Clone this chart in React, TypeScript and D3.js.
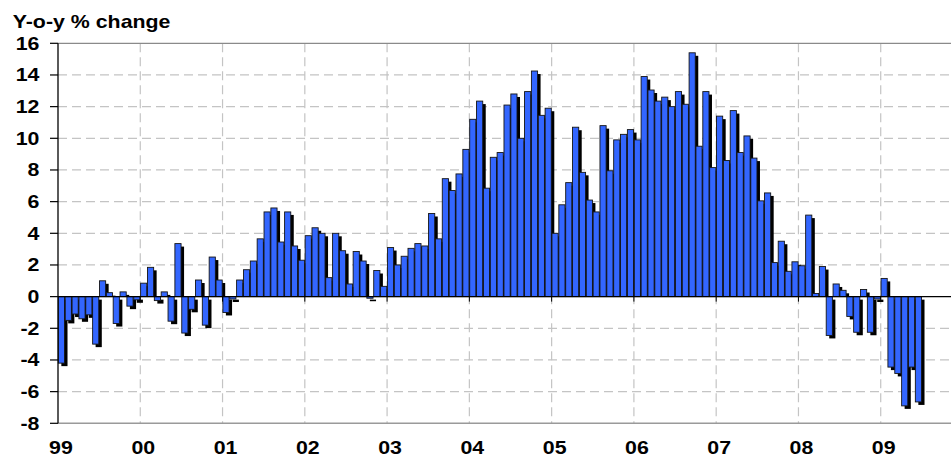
import React from 'react';
import * as d3 from 'd3';

const years = ['99', '00', '01', '02', '03', '04', '05', '06', '07', '08', '09'];

// monthly y-o-y % change, Jan 1999 – Jun 2009
const yoyChange = [
  -4.2, -1.5, -1.1, -1.4, -1.15, -3.0, 1.0, 0.25, -1.7, 0.3, -0.6, -0.2,
  0.85, 1.85, -0.25, 0.3, -1.55, 3.35, -2.3, -0.8, 1.05, -1.8, 2.5, 1.05,
  -1.0, -0.15, 1.05, 1.7, 2.25, 3.65, 5.35, 5.6, 3.45, 5.35, 3.2, 2.3,
  3.85, 4.35, 4.0, 1.2, 4.0, 2.9, 0.8, 2.85, 2.25, -0.1, 1.65, 0.65,
  3.1, 2.0, 2.55, 3.05, 3.35, 3.2, 5.25, 3.65, 7.45, 6.7, 7.75, 9.3,
  11.2, 12.35, 6.85, 8.8, 9.1, 12.1, 12.8, 10.0, 12.95, 14.25, 11.45, 11.9,
  4.0, 5.8, 7.2, 10.7, 7.85, 6.1, 5.35, 10.8, 7.95, 9.9, 10.25, 10.55,
  9.9, 13.9, 13.05, 12.35, 12.6, 12.0, 12.95, 12.15, 15.4, 9.5, 12.95, 8.15,
  11.4, 8.6, 11.75, 9.1, 10.15, 8.75, 6.05, 6.55, 2.15, 3.5, 1.6, 2.2,
  1.95, 5.15, 0.2, 1.9, -2.45, 0.8, 0.4, -1.25, -2.25, 0.45, -2.25, -0.15,
  1.15, -4.45, -4.85, -6.9, -4.45, -6.65,
];

const yTicks = [-8, -6, -4, -2, 0, 2, 4, 6, 8, 10, 12, 14, 16];

const months = years.flatMap((yr) => d3.range(12).map((m) => `${yr}-${m + 1}`));

const W = 951;
const H = 457;
const left = 58;
const top = 43.3;
const bottom = 423.3;
const step = 6.856;

const font = "'Liberation Sans', Arial, Helvetica, sans-serif";

const Label = ({ x, y, anchor, children }: { x: number; y: number; anchor: string; children: React.ReactNode }) => (
  <text
    transform={`translate(${x},${y}) scale(1.22,1)`}
    textAnchor={anchor}
    fontFamily={font}
    fontWeight="bold"
    fontSize={17.5}
    fill="#000"
  >
    {children}
  </text>
);

export default function App() {
  const x = d3
    .scaleBand<string>()
    .domain(months)
    .range([left, left + months.length * step])
    .paddingInner(0.1)
    .paddingOuter(0.05);
  const y = d3.scaleLinear().domain([-8, 16]).range([bottom, top]);
  const bw = x.bandwidth();
  const edge = (m: string) => (x(m) as number) - x.step() * 0.05;
  const y0 = y(0);
  const right = left + months.length * step;
  const yearStarts = years.map((yr) => edge(`${yr}-1`));

  return (
    <div style={{ position: 'absolute', left: 0, top: 0 }}>
      <svg width={W} height={H} style={{ display: 'block', background: '#fff' }}>
        {/* grid */}
        {yTicks
          .filter((t) => t !== 0 && t !== 16 && t !== -8)
          .map((t) => (
            <line key={'h' + t} x1={left} x2={right} y1={y(t)} y2={y(t)} stroke="#c4c4c4" strokeWidth={1.2} strokeDasharray="9,5" />
          ))}
        {yearStarts.slice(1).map((xs, i) => (
          <line key={'v' + i} x1={xs} x2={xs} y1={top} y2={bottom} stroke="#c4c4c4" strokeWidth={1.2} strokeDasharray="9,5" />
        ))}
        {/* plot border */}
        <line x1={left} x2={right} y1={top} y2={top} stroke="#8a8a8a" strokeWidth={1.2} />
        <line x1={left} x2={right} y1={bottom} y2={bottom} stroke="#9a9a9a" strokeWidth={1.6} />

        {/* shadows */}
        {yoyChange.map((v, i) => {
          const bx = (x(months[i]) as number) + 3;
          if (v >= 0) {
            const yt = y(v) + 3;
            return <rect key={'s' + i} x={bx} y={yt} width={bw} height={Math.max(0, y0 - yt)} fill="#000" />;
          }
          return <rect key={'s' + i} x={bx} y={y0 + 3} width={bw} height={y(v) - y0} fill="#000" />;
        })}
        {/* bars */}
        {yoyChange.map((v, i) => (
          <rect
            key={'b' + i}
            x={x(months[i]) as number}
            y={Math.min(y(v), y0)}
            width={bw}
            height={Math.abs(y(v) - y0)}
            fill="#3366ff"
            stroke="#151515"
            strokeWidth={0.9}
          />
        ))}

        {/* zero axis and x ticks */}
        <line x1={left} x2={right} y1={y0} y2={y0} stroke="#000" strokeWidth={1.2} />
        {yearStarts.slice(1).map((xs, i) => (
          <line key={'xt' + i} x1={xs} x2={xs} y1={y0} y2={y0 + 5} stroke="#000" strokeWidth={1} />
        ))}

        {/* y axis */}
        <line x1={left} x2={left} y1={top} y2={bottom} stroke="#000" strokeWidth={1.3} />
        {yTicks.map((t) => (
          <g key={'yt' + t}>
            <line x1={left - 8} x2={left} y1={y(t)} y2={y(t)} stroke="#000" strokeWidth={1.2} />
            <Label x={39.5} y={y(t) + 6.3} anchor="end">
              {t}
            </Label>
          </g>
        ))}

        {/* x labels */}
        {years.map((yr, i) => (
          <Label key={'xl' + yr} x={yearStarts[i] + 3} y={454} anchor="middle">
            {yr}
          </Label>
        ))}

        <Label x={12.7} y={28} anchor="start">
          Y-o-y % change
        </Label>
      </svg>
    </div>
  );
}
